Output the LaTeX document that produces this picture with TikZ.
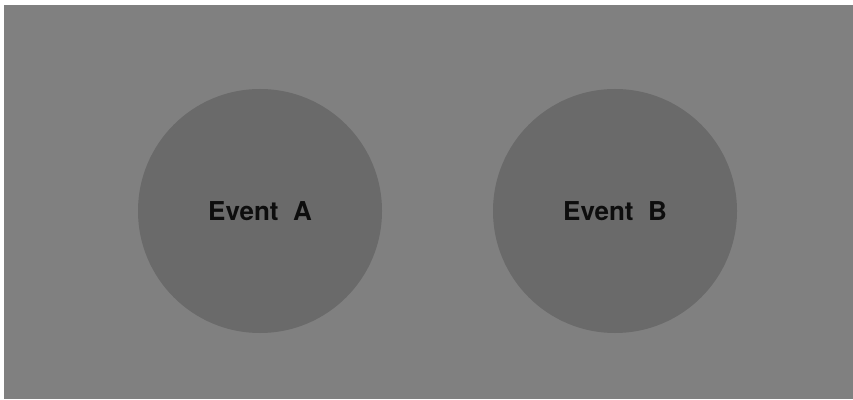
\documentclass[tikz,border=0pt]{standalone}
\usepackage{fontspec}
\setsansfont{TeX Gyre Heros}
\usetikzlibrary{positioning}
\definecolor{backgray}{RGB}{128,128,128}
\definecolor{eventgray}{RGB}{106,106,106}
\tikzset{eventdisc/.style={circle, fill=eventgray, minimum size=244pt, inner sep=0pt,
    font=\sffamily\bfseries\fontsize{26}{30}\selectfont, text=black!95}}
\begin{document}
\begin{tikzpicture}[x=1pt, y=1pt]
                    \useasboundingbox (0,0) rectangle (853,399);
                    \fill[backgray] (4,0) rectangle (853,394);
                    \node[eventdisc] (eventA) at (260,188) {Event\ \ A};
                    \node[eventdisc] (eventB) at (615,188) {Event\ \ B};
                \end{tikzpicture}
\end{document}
